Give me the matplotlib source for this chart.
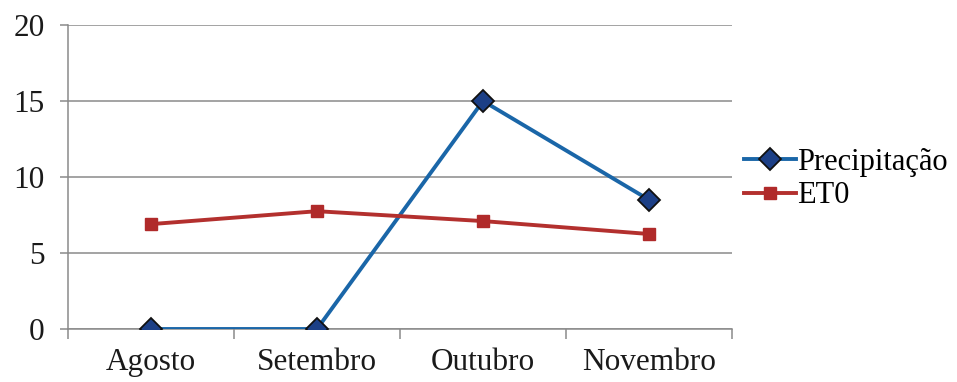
import matplotlib
matplotlib.use("Agg")
import matplotlib.pyplot as plt
from matplotlib.ticker import FixedLocator

months = ["Agosto", "Setembro", "Outubro", "Novembro"]
precipitacao = [0.0, 0.0, 15.0, 8.5]
et0 = [6.9, 7.75, 7.1, 6.25]
y_ticks = [0, 5, 10, 15, 20]

plt.rcParams["font.family"] = ["Liberation Serif", "DejaVu Serif"]

fig = plt.figure(figsize=(9.57, 3.82), dpi=100)
ax = fig.add_axes([68 / 957, 1 - 329 / 382, (732 - 68) / 957, (329 - 25) / 382])

x = range(len(months))
ln1, = ax.plot(x, precipitacao, color="#1a66a8", lw=2.8, marker="D", markersize=11,
               markerfacecolor="#1c3f86", markeredgecolor="#101010", markeredgewidth=1.3,
               label="Precipitação", zorder=3)
ln2, = ax.plot(x, et0, color="#b3302e", lw=2.8, marker="s", markersize=9,
               markerfacecolor="#b02a2a", markeredgecolor="#b02a2a",
               label="ET0", zorder=3)

ax.set_xlim(-0.5, len(months) - 0.5)
ax.set_ylim(0, 20)
ax.set_yticks(y_ticks)
ax.set_xticks(list(x))
ax.set_xticklabels(months)
ax.xaxis.set_minor_locator(FixedLocator([i + 0.5 for i in range(-1, len(months))]))

ax.grid(axis="y", color="#8a8a8a", lw=1.1)
ax.set_axisbelow(True)
for side in ("top", "right"):
    ax.spines[side].set_visible(False)
for side in ("left", "bottom"):
    ax.spines[side].set_color("#8a8a8a")
    ax.spines[side].set_linewidth(1.1)

ax.tick_params(axis="y", direction="out", length=6, width=1.1, color="#8a8a8a",
               labelsize=22.5, pad=11, labelcolor="#1a1a1a")
ax.tick_params(axis="x", which="major", length=0, labelsize=22.5, pad=14, labelcolor="#1a1a1a")
ax.tick_params(axis="x", which="minor", direction="out", length=7, width=1.1, color="#8a8a8a")

fig.legend(handles=[ln1, ln2], loc="center left", bbox_to_anchor=(744 / 957, 1 - 179 / 382),
           frameon=False, fontsize=22, handlelength=1.7, handletextpad=0.05,
           labelspacing=0.15, borderaxespad=0, borderpad=0)

fig.savefig("out.png", dpi=100, facecolor="white")
